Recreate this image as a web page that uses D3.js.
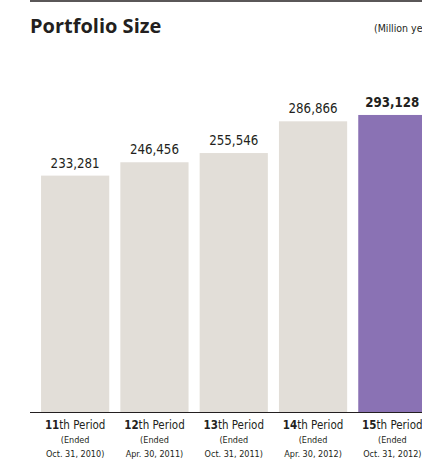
<!DOCTYPE html>
<html lang="en">
<head>
    <meta charset="UTF-8">
    <title>Portfolio Size</title>
    <script src="https://d3js.org/d3.v7.min.js"></script>
    <style>
        body { margin: 0; background: #fff; }
        svg { display: block; font-family: "DejaVu Sans Condensed", "DejaVu Sans", sans-serif; }
    </style>
</head>
<body>
    <div id="chart"></div>

    <script>
        // Data
        var periods = ["11", "12", "13", "14", "15"];
        var endDates = ["Oct. 31, 2010)", "Apr. 30, 2011)", "Oct. 31, 2011)", "Apr. 30, 2012)", "Oct. 31, 2012)"];
        var values = [233281, 246456, 255546, 286866, 293128];

        var width = 422, height = 461;
        var baseY = 412;
        var ink = "#231f20";

        var svg = d3.select("#chart")
            .append("svg")
            .attr("width", width)
            .attr("height", height);

        // top rule
        svg.append("line")
            .attr("x1", 30).attr("x2", width)
            .attr("y1", 1).attr("y2", 1)
            .attr("stroke", ink)
            .attr("stroke-width", 1.5);

        svg.append("text")
            .attr("x", 30)
            .attr("y", 33)
            .attr("font-family", "'Open Sans', sans-serif")
            .attr("font-weight", "bold")
            .attr("font-size", 20)
            .attr("fill", ink)
            .text("Portfolio Size");

        svg.append("text")
            .attr("x", 374)
            .attr("y", 32)
            .attr("font-size", 10.5)
            .attr("fill", ink)
            .text("(Million yen)");

        var x = d3.scaleBand()
            .domain(periods)
            .range([35.5, 432])
            .paddingInner(0.14)
            .paddingOuter(0.07);

        var y = d3.scaleLinear()
            .domain([0, 300000])
            .range([baseY, baseY - 304]);

        var last = periods.length - 1;

        // bars
        svg.selectAll(".bar")
            .data(values)
            .enter()
            .append("rect")
            .attr("class", "bar")
            .attr("x", function(d, i) { return x(periods[i]); })
            .attr("y", function(d) { return y(d); })
            .attr("width", x.bandwidth())
            .attr("height", function(d) { return baseY - y(d); })
            .attr("fill", function(d, i) { return i === last ? "#8a72b4" : "#e2ded8"; });

        // value labels
        svg.selectAll(".val")
            .data(values)
            .enter()
            .append("text")
            .attr("class", "val")
            .attr("x", function(d, i) { return x(periods[i]) + x.bandwidth() / 2; })
            .attr("y", function(d) { return y(d) - 8; })
            .attr("text-anchor", "middle")
            .attr("font-size", 13.2)
            .attr("font-weight", function(d, i) { return i === last ? "bold" : "normal"; })
            .attr("fill", ink)
            .text(function(d) { return d3.format(",")(d); });

        // baseline
        svg.append("line")
            .attr("x1", 30).attr("x2", width)
            .attr("y1", baseY + 0.5).attr("y2", baseY + 0.5)
            .attr("stroke", ink)
            .attr("stroke-width", 1.2);

        // category labels
        var cat = svg.selectAll(".cat")
            .data(periods)
            .enter()
            .append("g")
            .attr("class", "cat")
            .attr("transform", function(d) { return "translate(" + (x(d) + x.bandwidth() / 2) + ",0)"; });

        var t1 = cat.append("text")
            .attr("y", 429)
            .attr("text-anchor", "middle")
            .attr("font-size", 11.5)
            .attr("fill", ink);
        t1.append("tspan").attr("font-weight", "bold").text(function(d) { return d; });
        t1.append("tspan").text("th Period");

        cat.append("text")
            .attr("y", 443)
            .attr("text-anchor", "middle")
            .attr("font-size", 9)
            .attr("fill", ink)
            .text("(Ended");

        cat.append("text")
            .attr("y", 457)
            .attr("text-anchor", "middle")
            .attr("font-size", 9)
            .attr("fill", ink)
            .text(function(d, i) { return endDates[i]; });
    </script>
</body>
</html>
